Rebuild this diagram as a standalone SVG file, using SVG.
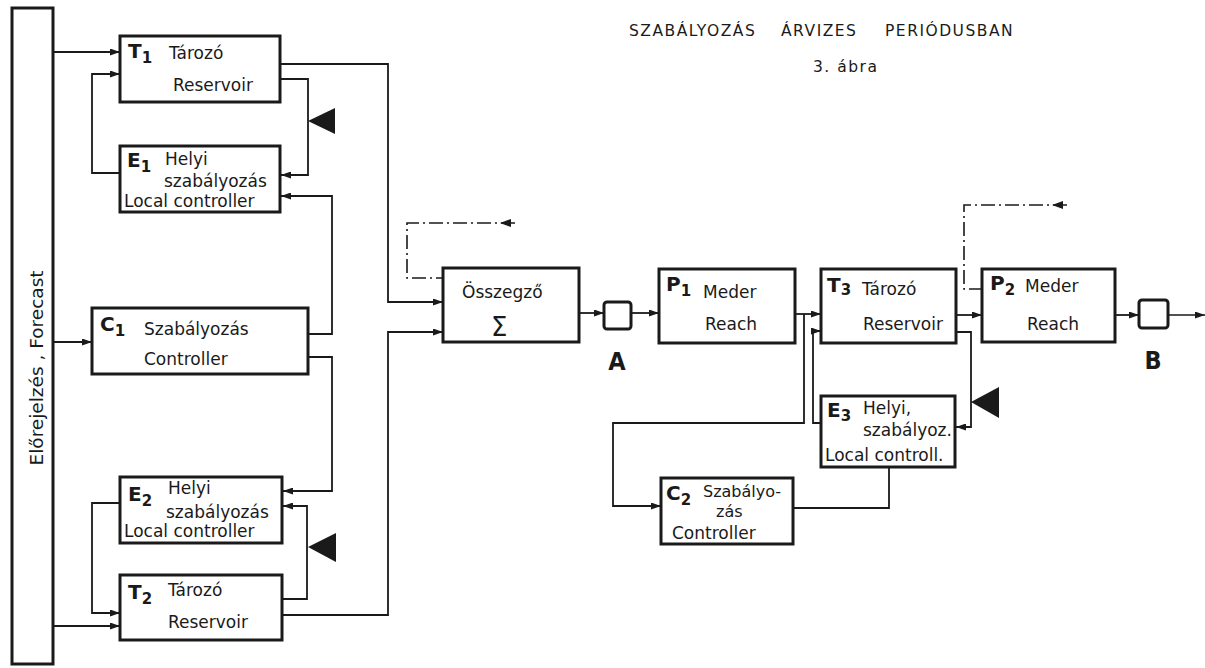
<svg xmlns="http://www.w3.org/2000/svg" width="1205" height="668" viewBox="0 0 1205 668">
<defs>
<marker id="arr" markerWidth="10" markerHeight="7" refX="10" refY="3.5" orient="auto" markerUnits="userSpaceOnUse"><path d="M0,0 L10,3.5 L0,7 z" fill="#1a1a1a"/></marker>
<style>
.box{fill:#fff;stroke:#1a1a1a;stroke-width:3}
.t{font-family:"DejaVu Sans","Liberation Sans",sans-serif;font-size:17px;fill:#1a1a1a}
.id{font-family:"DejaVu Sans","Liberation Sans",sans-serif;font-size:20px;font-weight:bold;fill:#1a1a1a}
.sub{font-size:15px}
.ttl{font-family:"DejaVu Sans","Liberation Sans",sans-serif;font-size:15.5px;letter-spacing:1.5px;fill:#1a1a1a}
.big{font-family:"DejaVu Sans Condensed","DejaVu Sans",sans-serif;font-size:25px;font-weight:bold;fill:#1a1a1a}
.c{fill:none;stroke:#1a1a1a;stroke-width:1.8}
.ca{fill:none;stroke:#1a1a1a;stroke-width:1.8;marker-end:url(#arr)}
.dd{fill:none;stroke:#1a1a1a;stroke-width:1.6;stroke-dasharray:14 4 2 4}
.tri{fill:#1a1a1a}
</style>
</defs>
<rect width="1205" height="668" fill="#fff"/>

<text class="ttl" y="36"><tspan x="629">SZABÁLYOZÁS</tspan><tspan x="781">ÁRVIZES</tspan><tspan x="885">PERIÓDUSBAN</tspan></text>
<text class="ttl" x="813" y="72">3. ábra</text>

<g id="connectors">
<path class="ca" d="M53,52 H120"/>
<path class="ca" d="M120,173 H92 V74 H120"/>
<path class="ca" d="M280,64 H388 V302 H443"/>
<path class="ca" d="M280,79 H308 V175 H281"/>
<polygon class="tri" points="308,121 335,108 335,134"/>
<path class="ca" d="M308,334 H332 V196 H281"/>
<path class="ca" d="M53,342 H92"/>
<path class="ca" d="M308,357 H332 V491 H283"/>
<path class="ca" d="M282,599 H307 V506 H283"/>
<polygon class="tri" points="308,547 336,533 336,562"/>
<path class="ca" d="M120,503 H92 V613 H120"/>
<path class="ca" d="M53,626 H120"/>
<path class="ca" d="M282,615 H388 V332 H443"/>
<path class="dd" d="M515,223 H407 V278 H443"/>
<polygon class="tri" points="500,223 511,219 511,227"/>
<path class="ca" d="M579,313 H604"/>
<path class="ca" d="M631,313 H659"/>
<path class="ca" d="M795,314 H821"/>
<path class="ca" d="M804,314 V423 H613 V506 H661"/>
<path class="ca" d="M821,423 H813 V331 H821"/>
<path class="ca" d="M956,315 H982"/>
<path class="ca" d="M956,332 H971 V427 H956"/>
<polygon class="tri" points="971,402 999,387 999,418"/>
<path class="c" d="M889,467 V508 H793"/>
<path class="dd" d="M1067,205 H964 V289 H982"/>
<polygon class="tri" points="1052,205 1063,201 1063,209"/>
<path class="ca" d="M1115,315 H1139"/>
<path class="ca" d="M1168,315 H1205" style="stroke-width:1.3"/>
</g>

<g id="forecast">
<rect class="box" x="12" y="8" width="41" height="656"/>
<text class="t" style="font-size:18.5px" text-anchor="middle" transform="translate(43,368) rotate(-90)">Előrejelzés , Forecast</text>
</g>

<g id="T1">
<rect class="box" x="120" y="36" width="160" height="66"/>
<text class="id" x="128" y="58">T<tspan class="sub" dy="5">1</tspan></text>
<text class="t" x="169" y="59">Tározó</text>
<text class="t" x="173" y="91">Reservoir</text>
</g>

<g id="E1">
<rect class="box" x="120" y="146" width="160" height="66"/>
<text class="id" x="127" y="167">E<tspan class="sub" dy="5">1</tspan></text>
<text class="t" x="165" y="165">Helyi</text>
<text class="t" x="164" y="187">szabályozás</text>
<text class="t" x="124" y="207">Local controller</text>
</g>

<g id="C1">
<rect class="box" x="92" y="308" width="216" height="66"/>
<text class="id" x="100" y="331">C<tspan class="sub" dy="5">1</tspan></text>
<text class="t" x="144" y="335">Szabályozás</text>
<text class="t" x="144" y="365">Controller</text>
</g>

<g id="E2">
<rect class="box" x="120" y="477" width="162" height="66"/>
<text class="id" x="128" y="501">E<tspan class="sub" dy="5">2</tspan></text>
<text class="t" x="168" y="494">Helyi</text>
<text class="t" x="166" y="518">szabályozás</text>
<text class="t" x="124" y="537">Local controller</text>
</g>

<g id="T2">
<rect class="box" x="120" y="575" width="162" height="65"/>
<text class="id" x="128" y="599">T<tspan class="sub" dy="5">2</tspan></text>
<text class="t" x="168" y="596">Tározó</text>
<text class="t" x="168" y="628">Reservoir</text>
</g>

<g id="osszegzo">
<rect class="box" x="443" y="268" width="136" height="74"/>
<text class="t" x="462" y="298">Összegző</text>
<text class="t" x="491" y="336" style="font-size:26px">Σ</text>
</g>

<g id="A">
<rect class="box" x="604" y="302" width="27" height="27" rx="3"/>
<text class="big" x="617" y="370" text-anchor="middle">A</text>
</g>

<g id="P1">
<rect class="box" x="659" y="269" width="136" height="74"/>
<text class="id" x="666" y="291">P<tspan class="sub" dy="5">1</tspan></text>
<text class="t" x="703" y="298">Meder</text>
<text class="t" x="705" y="330">Reach</text>
</g>

<g id="T3">
<rect class="box" x="821" y="269" width="135" height="74"/>
<text class="id" x="827" y="292">T<tspan class="sub" dy="3">3</tspan></text>
<text class="t" x="862" y="295">Tározó</text>
<text class="t" x="863" y="330">Reservoir</text>
</g>

<g id="P2">
<rect class="box" x="982" y="269" width="133" height="73"/>
<text class="id" x="990" y="290">P<tspan class="sub" dy="5">2</tspan></text>
<text class="t" x="1025" y="292">Meder</text>
<text class="t" x="1027" y="330">Reach</text>
</g>

<g id="B">
<rect class="box" x="1139" y="300" width="29" height="28" rx="3"/>
<text class="big" x="1153" y="369" text-anchor="middle">B</text>
</g>

<g id="E3">
<rect class="box" x="821" y="396" width="134" height="71"/>
<text class="id" x="827" y="417">E<tspan class="sub" dy="4">3</tspan></text>
<text class="t" x="863" y="414">Helyi,</text>
<text class="t" x="863" y="436">szabályoz.</text>
<text class="t" x="825" y="461">Local controll.</text>
</g>

<g id="C2">
<rect class="box" x="661" y="478" width="132" height="66"/>
<text class="id" x="666" y="500">C<tspan class="sub" dy="5">2</tspan></text>
<text class="t" x="703" y="497" style="font-size:16px">Szabályo-</text>
<text class="t" x="716" y="517" style="font-size:16px">zás</text>
<text class="t" x="672" y="539">Controller</text>
</g>
</svg>
